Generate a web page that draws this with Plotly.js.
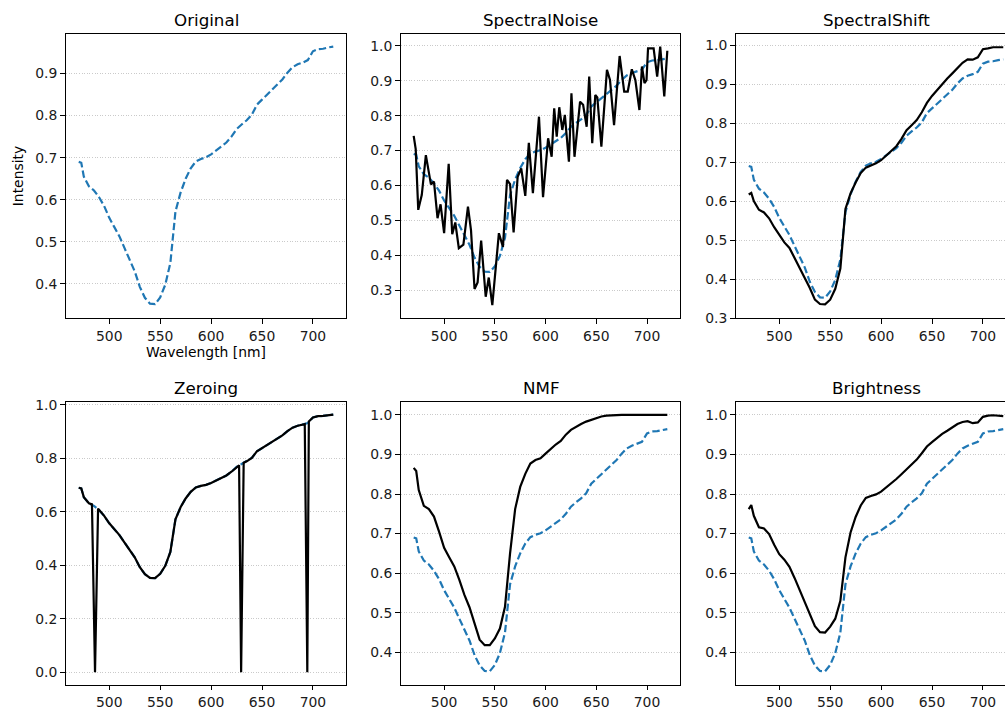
<!DOCTYPE html>
<html>
<head>
<meta charset="utf-8">
<script src="https://cdn.plot.ly/plotly-3.0.1.min.js"></script>
<style>
html, body { margin: 0; padding: 0; overflow: hidden; background: #fff; }
#chart { width: 1040px; height: 711px; }
</style>
</head>
<body>
<div id="chart"></div>
<script>
// ---- data ----
const panelTitles = ["Original", "SpectralNoise", "SpectralShift", "Zeroing", "NMF", "Brightness"];
const xTicks = [500, 550, 600, 650, 700];

const wavelength = [470, 472.5, 475, 480, 485, 490, 495, 500, 505, 510, 515, 520, 525, 530, 535, 540, 545, 550, 555, 560,
  565, 570, 575, 580, 585, 590, 595, 600, 605, 610, 615, 620, 625, 630, 635, 640, 645, 650, 655, 660,
  665, 670, 675, 680, 685, 690, 695, 700, 705, 710, 715, 720];

const original = [0.690, 0.688, 0.655, 0.632, 0.622, 0.606, 0.585, 0.557, 0.535, 0.513, 0.485, 0.458, 0.430, 0.393, 0.367, 0.353, 0.352, 0.368, 0.398, 0.450,
  0.572, 0.617, 0.650, 0.675, 0.691, 0.697, 0.701, 0.708, 0.718, 0.728, 0.736, 0.750, 0.768, 0.779, 0.789, 0.802, 0.826, 0.838, 0.850, 0.862,
  0.874, 0.886, 0.902, 0.915, 0.922, 0.926, 0.932, 0.953, 0.958, 0.959, 0.962, 0.964];

const spectralShift = [0.617, 0.621, 0.600, 0.578, 0.571, 0.556, 0.533, 0.512, 0.494, 0.480, 0.455, 0.430, 0.405, 0.377, 0.347, 0.336, 0.335, 0.347, 0.375, 0.427,
  0.580, 0.620, 0.648, 0.672, 0.686, 0.691, 0.697, 0.705, 0.717, 0.729, 0.741, 0.760, 0.782, 0.795, 0.808, 0.828, 0.852, 0.870, 0.885, 0.901,
  0.915, 0.928, 0.941, 0.955, 0.964, 0.963, 0.969, 0.990, 0.992, 0.995, 0.995, 0.995];

const nmf = [0.866, 0.858, 0.810, 0.770, 0.762, 0.743, 0.705, 0.664, 0.640, 0.617, 0.583, 0.545, 0.514, 0.471, 0.432, 0.418, 0.418, 0.435, 0.460, 0.515,
  0.650, 0.762, 0.818, 0.851, 0.877, 0.886, 0.890, 0.902, 0.914, 0.925, 0.934, 0.950, 0.962, 0.970, 0.977, 0.983, 0.988, 0.992, 0.996, 0.998,
  0.999, 1.000, 1.000, 1.000, 1.000, 1.000, 1.000, 1.000, 1.000, 1.000, 1.000, 1.000];

const brightness = [0.762, 0.772, 0.745, 0.716, 0.713, 0.699, 0.672, 0.648, 0.634, 0.616, 0.588, 0.557, 0.525, 0.494, 0.466, 0.451, 0.450, 0.465, 0.485, 0.530,
  0.640, 0.703, 0.742, 0.771, 0.790, 0.795, 0.799, 0.806, 0.816, 0.828, 0.838, 0.850, 0.862, 0.874, 0.887, 0.903, 0.920, 0.931, 0.942, 0.952,
  0.960, 0.968, 0.977, 0.982, 0.984, 0.979, 0.981, 0.995, 0.998, 0.999, 0.998, 0.997];

const noiseX = [470, 472, 474.5, 478, 482, 487, 490, 493.5, 496.5, 500, 504.5, 508, 511, 514.5, 519, 523.5, 526.5, 530, 533, 536.5,
  541, 544, 547.5, 554, 558, 562, 565, 568.5, 572.5, 576, 580, 583.5, 587.5, 593.5, 597.5, 601, 602.5, 606, 608.5, 611,
  613.5, 616.5, 619, 623, 625.5, 628.5, 634, 637, 640.5, 643, 646, 649, 651, 655, 660.5, 663.5, 667.5, 673, 677.5, 681,
  685, 688.5, 692.5, 695, 697.5, 699.5, 701, 706.5, 710, 713, 717, 720];
const noiseY = [0.742, 0.704, 0.530, 0.573, 0.687, 0.603, 0.611, 0.506, 0.546, 0.463, 0.662, 0.460, 0.494, 0.420, 0.430, 0.539, 0.472, 0.303, 0.322, 0.442,
  0.281, 0.336, 0.257, 0.463, 0.424, 0.616, 0.604, 0.465, 0.625, 0.649, 0.570, 0.722, 0.578, 0.797, 0.566, 0.682, 0.735, 0.682, 0.821, 0.740,
  0.824, 0.759, 0.802, 0.668, 0.864, 0.682, 0.840, 0.831, 0.768, 0.912, 0.721, 0.859, 0.852, 0.711, 0.931, 0.902, 0.773, 0.971, 0.869, 0.869,
  0.933, 0.902, 0.816, 0.941, 0.893, 0.902, 0.993, 0.993, 0.912, 0.998, 0.855, 0.986];

const zeroX = [470, 472.5, 475, 480, 483, 486, 489, 495, 500, 505, 510, 515, 520, 525, 530, 535, 540, 545, 550, 555, 560,
  565, 570, 575, 580, 585, 590, 595, 600, 605, 610, 615, 620, 625, 627.5, 629.5, 632, 635, 640, 645, 650, 655, 660,
  665, 670, 675, 680, 685, 690, 692, 694.5, 696, 700, 705, 710, 715, 720];
const zeroY = [0.690, 0.688, 0.655, 0.632, 0.628, 0.000, 0.612, 0.585, 0.557, 0.535, 0.513, 0.485, 0.458, 0.430, 0.393, 0.367, 0.353, 0.352, 0.368, 0.398, 0.450,
  0.572, 0.617, 0.650, 0.675, 0.691, 0.697, 0.701, 0.708, 0.718, 0.728, 0.736, 0.750, 0.768, 0.774, 0.000, 0.784, 0.789, 0.802, 0.826, 0.838, 0.850, 0.862,
  0.874, 0.886, 0.902, 0.915, 0.922, 0.926, 0.928, 0.000, 0.938, 0.953, 0.958, 0.959, 0.962, 0.964];

const yRanges = [[0.319, 0.994], [0.220, 1.034], [0.300, 1.029], [-0.048, 1.011], [0.3175, 1.0325], [0.3175, 1.0325]];
const yDtick = [0.1, 0.1, 0.1, 0.2, 0.1, 0.1];

// ---- layout geometry (pixels) ----
const W = 1040, H = 711;
const colPx = [[66, 346], [401, 680], [736, 1016]];
const rowPx = [[34, 318], [402, 685]];

const blue = '#1f77b4';
const dashStyle = {color: blue, width: 2.2, dash: '7.4px,3.2px'};
const blackStyle = {color: '#000000', width: 2.2};

const traces = [];
const blackSeries = [null, [noiseX, noiseY], [wavelength, spectralShift], [zeroX, zeroY], [wavelength, nmf], [wavelength, brightness]];
for (let i = 0; i < 6; i++) {
  const ax = i === 0 ? '' : String(i + 1);
  traces.push({x: wavelength, y: original, type: 'scatter', mode: 'lines', line: dashStyle,
    xaxis: 'x' + ax, yaxis: 'y' + ax, showlegend: false, hoverinfo: 'skip'});
  if (blackSeries[i]) {
    traces.push({x: blackSeries[i][0], y: blackSeries[i][1], type: 'scatter', mode: 'lines', line: blackStyle,
      xaxis: 'x' + ax, yaxis: 'y' + ax, showlegend: false, hoverinfo: 'skip'});
  }
}

const FAM = 'DejaVu Sans, sans-serif';
const TICK = 13.9, TITLE = 16.7;
const layout = {
  width: W, height: H,
  margin: {l: 0, r: 0, t: 0, b: 0},
  paper_bgcolor: '#ffffff', plot_bgcolor: '#ffffff',
  font: {family: FAM, size: TICK, color: '#1a1a1a'},
  showlegend: false,
  annotations: []
};

for (let i = 0; i < 6; i++) {
  const r = Math.floor(i / 3), c = i % 3;
  const ax = i === 0 ? '' : String(i + 1);
  const xd = [colPx[c][0] / W, colPx[c][1] / W];
  const yd = [1 - rowPx[r][1] / H, 1 - rowPx[r][0] / H];
  layout['xaxis' + ax] = {
    domain: xd, anchor: 'y' + ax, range: [457.5, 732.5],
    tickmode: 'array', tickvals: xTicks, ticktext: xTicks.map(String),
    showgrid: false, zeroline: false,
    showline: true, mirror: true, linecolor: '#000', linewidth: 1,
    ticks: 'outside', ticklen: r === 1 ? 4 : 5, tickwidth: 1, tickcolor: '#000',
    tickfont: {family: FAM, size: TICK, color: '#1a1a1a'},
    automargin: false
  };
  layout['yaxis' + ax] = {
    domain: yd, anchor: 'x' + ax, range: yRanges[i],
    tick0: 0, dtick: yDtick[i], tickformat: '.1f',
    showgrid: true, gridcolor: '#bdbdbd', gridwidth: 0.8, griddash: '1px,1.6px',
    zeroline: false,
    showline: true, mirror: true, linecolor: '#000', linewidth: 1,
    ticks: 'outside', ticklen: 5, tickwidth: 1, tickcolor: '#000',
    tickfont: {family: FAM, size: TICK, color: '#1a1a1a'},
    automargin: false
  };
  layout.annotations.push({
    text: panelTitles[i], xref: 'paper', yref: 'paper',
    x: (xd[0] + xd[1]) / 2, y: yd[1], xanchor: 'center', yanchor: 'bottom',
    yshift: 2, showarrow: false,
    font: {family: FAM, size: TITLE, color: '#000'}
  });
}
layout.xaxis.title = {text: 'Wavelength [nm]', standoff: 4, font: {family: FAM, size: TICK, color: '#000'}};
layout.yaxis.title = {text: 'Intensity', standoff: 8, font: {family: FAM, size: TICK, color: '#000'}};

Plotly.newPlot('chart', traces, layout, {staticPlot: true, displayModeBar: false});
</script>
</body>
</html>
